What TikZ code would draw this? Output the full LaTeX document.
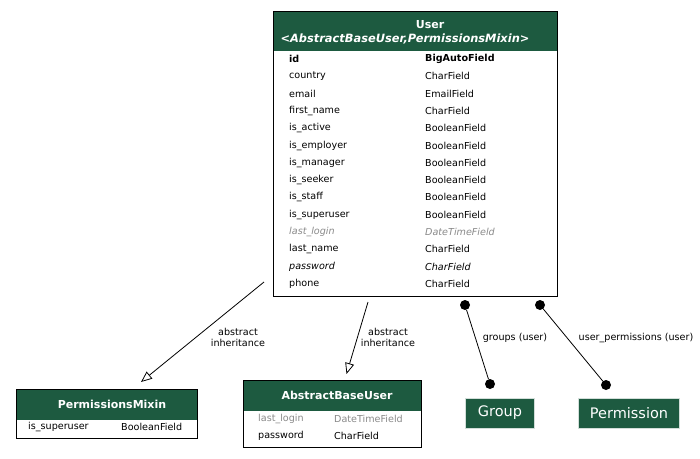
\documentclass[tikz,border=0pt]{standalone}
\usepackage{fontspec}
\setmainfont{DejaVu Sans}
\usetikzlibrary{arrows.meta}
\definecolor{hdr}{HTML}{1D5A40}
\definecolor{fade}{HTML}{8A8A8A}
\tikzset{
  x=1pt,y=-1pt,
  box/.style={draw=black,line width=1.3pt,fill=white,anchor=north west,inner sep=0pt},
  head/.style={fill=hdr,anchor=north west,inner sep=0pt},
  htext/.style={text=white,font=\fontsize{11}{13}\selectfont\bfseries,inner sep=0pt},
  row/.style={anchor=west,inner sep=0pt,font=\fontsize{9.6}{11}\selectfont},
  frow/.style={row,text=fade},
  lbl/.style={inner sep=0pt,align=center,font=\fontsize{9.6}{11}\selectfont},
  inh/.style={draw=black,line width=0.8pt,-{Triangle[open,length=11pt,width=9pt,line width=0.8pt]}},
  assoc/.style={draw=black,line width=0.8pt},
  dot/.style={circle,fill=black,inner sep=0pt,minimum size=10pt},
  small/.style={fill=hdr,draw=white!80!hdr,line width=0.8pt,text=white,inner sep=0pt,font=\fontsize{14.5}{16}\selectfont},
}
\begin{document}
\begin{tikzpicture}
\useasboundingbox (0,0) rectangle (700,458);
% User
\node[box,minimum width=284pt,minimum height=285pt] (user) at (273,11) {};
\node[head,minimum width=282.7pt,minimum height=39pt] (userh) at (273.65,11.65) {};
\node[htext] (usert) at (430,25) {User};
\node[htext,font=\fontsize{11.4}{13}\selectfont\bfseries\itshape] (usert2) at (405,39) {<AbstractBaseUser,PermissionsMixin>};
\foreach \n/\t/\y [count=\i] in {
  country/CharField/76.3, email/EmailField/93.6, first\_name/CharField/110.9,
  is\_active/BooleanField/128.2, is\_employer/BooleanField/145.5,
  is\_manager/BooleanField/162.8, is\_seeker/BooleanField/180.1,
  is\_staff/BooleanField/197.4, is\_superuser/BooleanField/214.7,
  last\_name/CharField/249.3, phone/CharField/283.9}{
  \node[row] (un\i) at (289,\y) {\n};
  \node[row] (ut\i) at (425,\y) {\t};
}
\node[row,font=\fontsize{9.6}{11}\selectfont\bfseries] (uid) at (289,59) {id};
\node[row,font=\fontsize{9.6}{11}\selectfont\bfseries] (uidt) at (425,59) {BigAutoField};
\node[frow,font=\fontsize{9.6}{11}\selectfont\itshape] (ull) at (289,232) {last\_login};
\node[frow,font=\fontsize{9.6}{11}\selectfont\itshape] (ullt) at (425,232) {DateTimeField};
\node[row,font=\fontsize{9.6}{11}\selectfont\itshape] (upw) at (289,266.6) {password};
\node[row,font=\fontsize{9.6}{11}\selectfont\itshape] (upwt) at (425,266.6) {CharField};
% PermissionsMixin
\node[box,minimum width=181pt,minimum height=49pt] (pm) at (16,389) {};
\node[head,minimum width=179.7pt,minimum height=30pt] (pmh) at (16.65,389.65) {};
\node[htext] (pmt) at (112,404.5) {PermissionsMixin};
\node[row] (pm1) at (28,427) {is\_superuser};
\node[row] (pm1t) at (121,427) {BooleanField};
% AbstractBaseUser
\node[box,minimum width=178pt,minimum height=67pt] (abu) at (243,380) {};
\node[head,minimum width=176.7pt,minimum height=30pt] (abuh) at (243.65,380.65) {};
\node[htext] (abut) at (337,395) {AbstractBaseUser};
\node[frow] (abu1) at (258,419) {last\_login};
\node[frow] (abu1t) at (334,419) {DateTimeField};
\node[row] (abu2) at (258,436) {password};
\node[row] (abu2t) at (334,436) {CharField};
% Group, Permission
\node[small,minimum width=69pt,minimum height=30pt] (grp) at (500,413) {Group};
\node[small,minimum width=101pt,minimum height=30pt] (perm) at (629,413) {Permission};
% edges
\coordinate (a1) at (264,282);
\coordinate (a2) at (141,382);
\draw[inh] (a1) -- (a2);
\node[lbl] (l1) at (238,337) {abstract\\inheritance};
\coordinate (b1) at (368,302);
\coordinate (b2) at (346.5,374);
\draw[inh] (b1) -- (b2);
\node[lbl] (l2) at (388,337) {abstract\\inheritance};
\node[dot] (g1) at (465,305) {};
\node[dot] (g2) at (490,384) {};
\draw[assoc] (g1) -- (g2);
\node[lbl] (l3) at (515,338) {groups (user)};
\node[dot] (p1) at (540,305) {};
\node[dot] (p2) at (606,385) {};
\draw[assoc] (p1) -- (p2);
\node[lbl] (l4) at (636,338) {user\_permissions (user)};
\end{tikzpicture}
\end{document}
